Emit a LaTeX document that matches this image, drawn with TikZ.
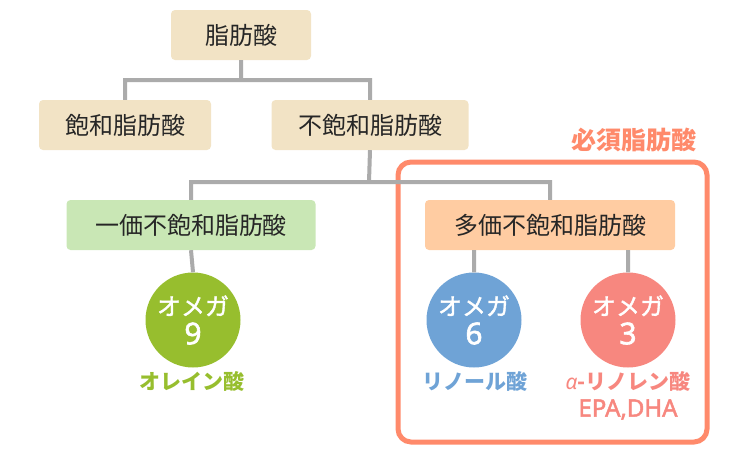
\documentclass[tikz,border=0pt]{standalone}
\usepackage{fontspec}
\setmainfont{Noto Sans CJK JP}
\newfontfamily\greekfont{Noto Sans}
\newfontfamily\latinmed[FakeBold=2]{Noto Sans}
\newfontfamily\medfont[FakeBold=1.5]{Noto Sans CJK JP}
\definecolor{beige}{HTML}{F2E3C5}
\definecolor{monogreen}{HTML}{C9E7B5}
\definecolor{polyorange}{HTML}{FFCCA2}
\definecolor{omega9}{HTML}{97BE2E}
\definecolor{omega6}{HTML}{6FA3D6}
\definecolor{omega3}{HTML}{F7877F}
\definecolor{frame}{HTML}{FF8A6B}
\definecolor{linegray}{HTML}{ABABAB}

\begin{document}
\begin{tikzpicture}[x=1pt, y=-1pt,
                    box/.style={rectangle, rounded corners=4pt, fill=beige, minimum height=50pt,
                                text=black!85, font=\fontsize{24}{28}\selectfont},
                    omega/.style={circle, minimum size=95pt, inner sep=0pt, text=white, align=center,
                                  font=\fontsize{24}{29}\medfont},
                    acid/.style={anchor=north, align=center, font=\fontsize{21}{27}\selectfont\bfseries},
                    conn/.style={draw=linegray, line width=4pt}]

  \useasboundingbox (0,0) rectangle (750,450);

  % essential fatty acids
  \draw[frame, line width=5pt, rounded corners=13pt] (398,162) rectangle (707,442);
  \node[text=frame, font=\fontsize{25}{28}\selectfont\bfseries] (ess) at (634,140) {必須脂肪酸};

  \node[box, minimum width=140pt] (fa) at (241,35) {脂肪酸};
  \node[box, minimum width=172pt] (sat) at (125,125) {飽和脂肪酸};
  \node[box, minimum width=197pt] (unsat) at (370,125) {不飽和脂肪酸};
  \node[box, minimum width=249pt, fill=monogreen] (mono) at (191,225) {一価不飽和脂肪酸};
  \node[box, minimum width=250pt, fill=polyorange] (poly) at (550,225) {多価不飽和脂肪酸};

  \node[omega, fill=omega9] (o9) at (193,320) {オメガ\\{\fontsize{30}{29}\latinmed 9}};
  \node[omega, fill=omega6] (o6) at (474,320) {オメガ\\{\fontsize{30}{29}\latinmed 6}};
  \node[omega, fill=omega3] (o3) at (628,320) {オメガ\\{\fontsize{30}{29}\latinmed 3}};

  \node[acid, text=omega9] (oleic) at (192,368) {オレイン酸};
  \node[acid, text=omega6] (linoleic) at (475,368) {リノール酸};
  \node[acid, text=omega3] (alinolenic) at (628,368)
    {{\greekfont\itshape α}-リノレン酸\\{\fontsize{24}{24}\latinmed EPA,DHA}};

  \coordinate (j1) at (241,80);
  \coordinate (j2) at (369,182);

  \path[conn]
    (fa.south) -- (j1) -| (sat.north)
    (j1) -| (unsat.north)
    (unsat.south) -- (j2) -| (mono.north)
    (j2) -| (poly.north)
    (mono.south) -- (o9.north)
    (o6.north |- poly.south) -- (o6.north)
    (o3.north |- poly.south) -- (o3.north);
\end{tikzpicture}
\end{document}
